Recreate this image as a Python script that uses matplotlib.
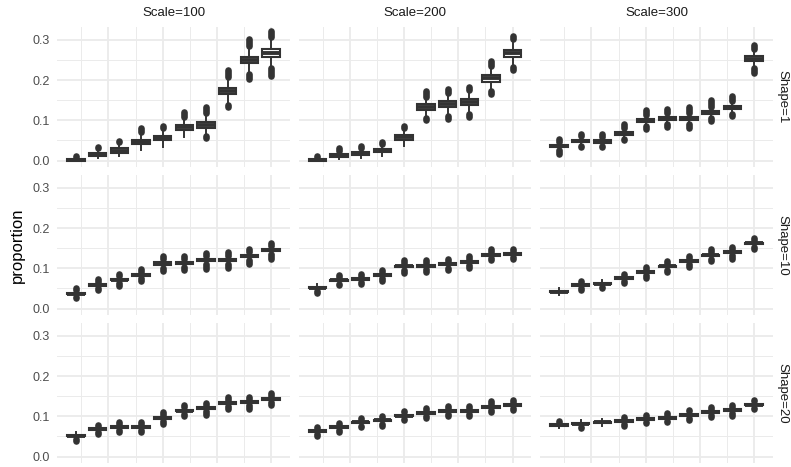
import matplotlib.pyplot as plt
import numpy as np

plt.rcParams['font.family'] = ['Liberation Sans', 'DejaVu Sans']

############# values ###################################

scales = [100, 200, 300]
shapes = [1, 10, 20]
groups = [1, 2, 3, 4, 5, 6, 7, 8, 9, 10]

y_ticks = [0.0, 0.1, 0.2, 0.3]
y_tick_labels = ["0.0", "0.1", "0.2", "0.3"]

# med = median, iqr = box height, lo / hi = lowest / highest point (outliers included)

# Shape=1
sh1_sc100_med = [0.002, 0.015, 0.025, 0.046, 0.056, 0.083, 0.089, 0.173, 0.250, 0.268]
sh1_sc100_iqr = [0.004, 0.008, 0.010, 0.012, 0.012, 0.013, 0.014, 0.017, 0.017, 0.019]
sh1_sc100_lo = [0.000, 0.006, 0.012, 0.027, 0.034, 0.059, 0.057, 0.132, 0.203, 0.210]
sh1_sc100_hi = [0.011, 0.033, 0.048, 0.082, 0.085, 0.120, 0.132, 0.225, 0.302, 0.322]

sh1_sc200_med = [0.002, 0.013, 0.017, 0.025, 0.058, 0.133, 0.140, 0.146, 0.204, 0.267]
sh1_sc200_iqr = [0.004, 0.006, 0.007, 0.008, 0.012, 0.013, 0.014, 0.015, 0.015, 0.017]
sh1_sc200_lo = [0.000, 0.004, 0.006, 0.012, 0.035, 0.100, 0.104, 0.108, 0.165, 0.225]
sh1_sc200_hi = [0.012, 0.030, 0.036, 0.046, 0.085, 0.173, 0.179, 0.182, 0.248, 0.310]

sh1_sc300_med = [0.036, 0.048, 0.047, 0.068, 0.100, 0.104, 0.104, 0.119, 0.132, 0.253]
sh1_sc300_iqr = [0.005, 0.006, 0.006, 0.007, 0.007, 0.007, 0.007, 0.007, 0.008, 0.012]
sh1_sc300_lo = [0.017, 0.033, 0.033, 0.050, 0.079, 0.083, 0.080, 0.098, 0.110, 0.218]
sh1_sc300_hi = [0.054, 0.067, 0.067, 0.092, 0.125, 0.129, 0.133, 0.150, 0.160, 0.288]

# Shape=10
sh10_sc100_med = [0.037, 0.059, 0.072, 0.084, 0.112, 0.113, 0.120, 0.120, 0.130, 0.145]
sh10_sc100_iqr = [0.004, 0.004, 0.004, 0.004, 0.005, 0.005, 0.005, 0.005, 0.005, 0.005]
sh10_sc100_lo = [0.025, 0.045, 0.055, 0.068, 0.093, 0.097, 0.099, 0.102, 0.110, 0.124]
sh10_sc100_hi = [0.050, 0.074, 0.085, 0.098, 0.131, 0.130, 0.138, 0.141, 0.149, 0.163]

sh10_sc200_med = [0.052, 0.070, 0.074, 0.083, 0.105, 0.106, 0.110, 0.116, 0.133, 0.135]
sh10_sc200_iqr = [0.004, 0.004, 0.004, 0.004, 0.004, 0.004, 0.004, 0.004, 0.004, 0.004]
sh10_sc200_lo = [0.038, 0.058, 0.060, 0.068, 0.088, 0.091, 0.095, 0.100, 0.120, 0.122]
sh10_sc200_hi = [0.062, 0.083, 0.087, 0.097, 0.120, 0.120, 0.124, 0.130, 0.148, 0.149]

sh10_sc300_med = [0.042, 0.058, 0.062, 0.076, 0.091, 0.105, 0.118, 0.132, 0.140, 0.162]
sh10_sc300_iqr = [0.004, 0.004, 0.004, 0.004, 0.004, 0.004, 0.004, 0.004, 0.004, 0.004]
sh10_sc300_lo = [0.033, 0.045, 0.052, 0.063, 0.077, 0.091, 0.103, 0.118, 0.124, 0.147]
sh10_sc300_hi = [0.052, 0.068, 0.072, 0.087, 0.103, 0.118, 0.131, 0.147, 0.153, 0.176]

# Shape=20
sh20_sc100_med = [0.052, 0.068, 0.073, 0.074, 0.096, 0.114, 0.120, 0.133, 0.135, 0.143]
sh20_sc100_iqr = [0.004, 0.004, 0.004, 0.004, 0.004, 0.004, 0.004, 0.004, 0.004, 0.004]
sh20_sc100_lo = [0.039, 0.056, 0.062, 0.062, 0.081, 0.100, 0.103, 0.118, 0.118, 0.127]
sh20_sc100_hi = [0.062, 0.078, 0.085, 0.085, 0.110, 0.128, 0.133, 0.148, 0.149, 0.158]

sh20_sc200_med = [0.063, 0.073, 0.085, 0.090, 0.102, 0.108, 0.113, 0.113, 0.123, 0.128]
sh20_sc200_iqr = [0.004, 0.004, 0.004, 0.004, 0.004, 0.004, 0.004, 0.004, 0.004, 0.004]
sh20_sc200_lo = [0.052, 0.061, 0.073, 0.076, 0.090, 0.096, 0.100, 0.100, 0.110, 0.115]
sh20_sc200_hi = [0.073, 0.083, 0.096, 0.102, 0.113, 0.120, 0.125, 0.125, 0.137, 0.140]

sh20_sc300_med = [0.079, 0.082, 0.085, 0.088, 0.094, 0.096, 0.104, 0.111, 0.115, 0.129]
sh20_sc300_iqr = [0.004, 0.004, 0.004, 0.004, 0.004, 0.004, 0.004, 0.004, 0.004, 0.004]
sh20_sc300_lo = [0.071, 0.071, 0.075, 0.077, 0.083, 0.085, 0.092, 0.098, 0.102, 0.117]
sh20_sc300_hi = [0.088, 0.092, 0.093, 0.098, 0.104, 0.107, 0.115, 0.123, 0.127, 0.140]

panels = {
    (1, 100): (sh1_sc100_med, sh1_sc100_iqr, sh1_sc100_lo, sh1_sc100_hi),
    (1, 200): (sh1_sc200_med, sh1_sc200_iqr, sh1_sc200_lo, sh1_sc200_hi),
    (1, 300): (sh1_sc300_med, sh1_sc300_iqr, sh1_sc300_lo, sh1_sc300_hi),
    (10, 100): (sh10_sc100_med, sh10_sc100_iqr, sh10_sc100_lo, sh10_sc100_hi),
    (10, 200): (sh10_sc200_med, sh10_sc200_iqr, sh10_sc200_lo, sh10_sc200_hi),
    (10, 300): (sh10_sc300_med, sh10_sc300_iqr, sh10_sc300_lo, sh10_sc300_hi),
    (20, 100): (sh20_sc100_med, sh20_sc100_iqr, sh20_sc100_lo, sh20_sc100_hi),
    (20, 200): (sh20_sc200_med, sh20_sc200_iqr, sh20_sc200_lo, sh20_sc200_hi),
    (20, 300): (sh20_sc300_med, sh20_sc300_iqr, sh20_sc300_lo, sh20_sc300_hi),
}

dark = '#333333'
grid_col = '#EBEBEB'


def draw_panel(ax, med, iqr, lo, hi):
	stats = []
	for m, w, l, h in zip(med, iqr, lo, hi):
		q1 = max(m - w / 2, 0.0)
		q3 = q1 + w
		stats.append(dict(med=m, q1=q1, q3=q3,
						  whislo=max(l, q1 - 1.5 * w),
						  whishi=min(h, q3 + 1.5 * w), fliers=[]))

	ax.bxp(stats, positions=groups, widths=0.8, patch_artist=True,
		   showcaps=False, showfliers=False, manage_ticks=False,
		   boxprops=dict(facecolor='white', edgecolor=dark, linewidth=1.5),
		   medianprops=dict(color=dark, linewidth=2.8, solid_capstyle='butt'),
		   whiskerprops=dict(color=dark, linewidth=1.4),
		   zorder=3)

	# outliers overlap into one column of points
	for x, s, l, h in zip(groups, stats, lo, hi):
		if l < s['whislo']:
			ax.plot([x, x], [l, s['whislo']], color=dark, lw=4.8,
					solid_capstyle='round', zorder=2.5)
		if h > s['whishi']:
			ax.plot([x, x], [s['whishi'], h], color=dark, lw=4.8,
					solid_capstyle='round', zorder=2.5)


fig, axes = plt.subplots(3, 3, figsize=(7.91, 4.67), dpi=100)
plt.subplots_adjust(left=0.0721, right=0.9772, top=0.9422, bottom=0.0086,
					wspace=0.0365, hspace=0.057)

for i, shape in enumerate(shapes):
	for j, scale in enumerate(scales):
		ax = axes[i, j]
		med, iqr, lo, hi = panels[(shape, scale)]
		draw_panel(ax, med, iqr, lo, hi)

		ax.set_xlim(0.13, 10.87)
		ax.set_ylim(-0.016, 0.332)
		ax.set_xticks([2.5, 5, 7.5, 10])
		ax.set_xticks([1.25, 3.75, 6.25, 8.75], minor=True)
		ax.set_yticks(y_ticks)
		ax.set_yticks([0.05, 0.15, 0.25], minor=True)
		ax.grid(which='major', color=grid_col, linewidth=1.3)
		ax.grid(which='minor', color=grid_col, linewidth=0.7)
		ax.set_axisbelow(True)
		for sp in ax.spines.values():
			sp.set_visible(False)
		ax.tick_params(which='both', length=0)
		ax.tick_params(axis='x', labelbottom=False)
		if j == 0:
			ax.set_yticklabels(y_tick_labels)
			ax.tick_params(axis='y', pad=5, labelsize=9, labelcolor='#4D4D4D')
		else:
			ax.tick_params(axis='y', labelleft=False)

# strips
for j, scale in enumerate(scales):
	pos = axes[0, j].get_position()
	fig.text((pos.x0 + pos.x1) / 2, 1 - 13 / 467, "Scale=%d" % scale,
			 ha='center', va='center', fontsize=9.5, color='#1A1A1A')

for i, shape in enumerate(shapes):
	pos = axes[i, 2].get_position()
	fig.text(782 / 791, (pos.y0 + pos.y1) / 2, "Shape=%d" % shape,
			 ha='center', va='center', rotation=-90, fontsize=9.5, color='#1A1A1A')

fig.text(17.5 / 791, 1 - 245 / 467, "proportion", ha='center', va='center',
		 rotation=90, fontsize=12, color='black')

fig.savefig('out.png', dpi=100)
